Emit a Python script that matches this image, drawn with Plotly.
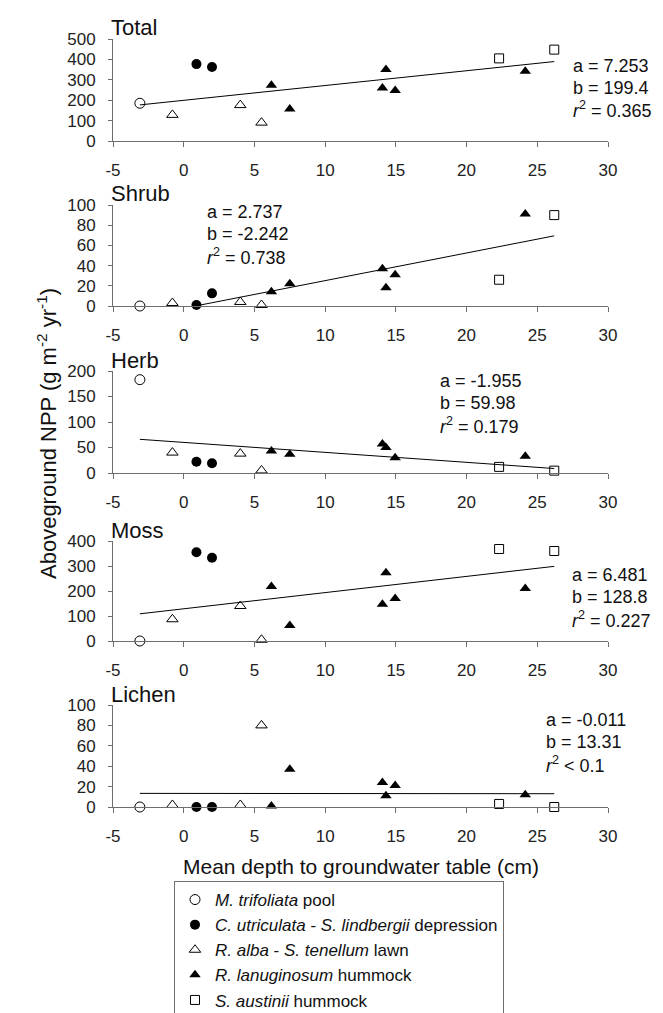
import plotly.graph_objects as go

# ---------------- data ----------------
x_pool = [-3.1]
x_dep = [0.9, 2.0]
x_lawn = [-0.8, 4.0, 5.5]
x_hum = [6.2, 7.5, 14.05, 14.3, 14.95, 24.15]
x_aus = [22.3, 26.2]

x_tick_vals = [-5, 0, 5, 10, 15, 20, 25, 30]
x_tick_text = ["-5", "0", "5", "10", "15", "20", "25", "30"]

panels = ["Total", "Shrub", "Herb", "Moss", "Lichen"]

pool_vals = {"Total": [185], "Shrub": [0], "Herb": [183], "Moss": [0], "Lichen": [0]}
dep_vals = {"Total": [377, 363], "Shrub": [1, 12.5], "Herb": [22, 19],
            "Moss": [355, 333], "Lichen": [0, 0]}
lawn_vals = {"Total": [128, 176, 90], "Shrub": [3, 4, 1], "Herb": [40, 38, 5],
             "Moss": [87, 140, 5], "Lichen": [2, 2, 80]}
hum_vals = {"Total": [273, 157, 260, 351, 247, 342],
            "Shrub": [14, 22, 37, 18, 31, 91],
            "Herb": [43, 37, 57, 50, 30, 33],
            "Moss": [218, 62, 147, 273, 170, 210],
            "Lichen": [1, 37, 24, 11, 21, 12]}
aus_vals = {"Total": [405, 448], "Shrub": [26, 90], "Herb": [12, 4.6],
            "Moss": [368, 360], "Lichen": [3, 0]}

# regression coefficients (slope a, intercept b) and r2 text
slope_a = {"Total": 7.253, "Shrub": 2.737, "Herb": -1.955, "Moss": 6.481, "Lichen": -0.011}
icpt_b = {"Total": 199.4, "Shrub": -2.242, "Herb": 59.98, "Moss": 128.8, "Lichen": 13.31}
a_text = {"Total": "7.253", "Shrub": "2.737", "Herb": "-1.955", "Moss": "6.481", "Lichen": "-0.011"}
b_text = {"Total": "199.4", "Shrub": "-2.242", "Herb": "59.98", "Moss": "128.8", "Lichen": "13.31"}
r2_text = {"Total": "= 0.365", "Shrub": "= 0.738", "Herb": "= 0.179", "Moss": "= 0.227", "Lichen": "< 0.1"}

y_max = {"Total": 500, "Shrub": 100, "Herb": 200, "Moss": 400, "Lichen": 100}
y_dtick = {"Total": 100, "Shrub": 20, "Herb": 50, "Moss": 100, "Lichen": 20}

# stats text placement (data coords: x start, y of first line)
stat_pos = {"Total": (27.4, 370), "Shrub": (1.5, 93), "Herb": (18.0, 180),
            "Moss": (27.3, 264), "Lichen": (25.5, 85)}

legend_names = ["<i>M. trifoliata</i> pool",
                "<i>C. utriculata</i> - <i>S. lindbergii</i> depression",
                "<i>R. alba</i> - <i>S. tenellum</i> lawn",
                "<i>R. lanuginosum</i> hummock",
                "<i>S. austinii</i> hummock"]

# ---------------- layout geometry (pixels) ----------------
W, H = 663, 1013
FONT = "Liberation Sans, Arial, sans-serif"
x_px = (105, 600)
panel_px = {"Total": (31, 133), "Shrub": (197, 298), "Herb": (363, 465),
            "Moss": (533, 633), "Lichen": (697, 799)}


def py(p):
    return 1 - p / H


fig = go.Figure()
groups = [
    (x_pool, pool_vals, dict(symbol="circle-open", size=10, color="black", line=dict(width=1))),
    (x_dep, dep_vals, dict(symbol="circle", size=10, color="black")),
    (x_lawn, lawn_vals, dict(symbol="triangle-up-open", size=10, color="black", line=dict(width=1))),
    (x_hum, hum_vals, dict(symbol="triangle-up", size=10, color="black")),
    (x_aus, aus_vals, dict(symbol="square-open", size=9, color="black", line=dict(width=1))),
]

annotations = []
for i, p in enumerate(panels):
    n = "" if i == 0 else str(i + 1)
    xa, ya = "x" + n, "y" + n
    # regression line
    xs = [min(x_pool), max(x_aus)]
    ys = [slope_a[p] * v + icpt_b[p] for v in xs]
    fig.add_trace(go.Scatter(x=xs, y=ys, mode="lines", line=dict(color="black", width=1),
                             showlegend=False, xaxis=xa, yaxis=ya, hoverinfo="skip"))
    for gi, (gx, gv, mk) in enumerate(groups):
        fig.add_trace(go.Scatter(x=gx, y=gv[p], mode="markers", marker=mk,
                                 name=legend_names[gi], legendgroup=str(gi),
                                 showlegend=(i == 0), cliponaxis=False,
                                 xaxis=xa, yaxis=ya))
    top, bot = panel_px[p]
    fig.layout["xaxis" + n] = dict(domain=[x_px[0] / W, x_px[1] / W], range=[-5, 30],
                                   tickmode="array", tickvals=x_tick_vals, ticktext=x_tick_text,
                                   anchor=ya, showline=True, linecolor="#6e6e6e",
                                   linewidth=1, ticks="outside", ticklen=5, tickcolor="#6e6e6e",
                                   showgrid=False, zeroline=False,
                                   tickfont=dict(family=FONT, size=17, color="#222"),
                                   ticklabelstandoff=9)
    fig.layout["yaxis" + n] = dict(domain=[py(bot), py(top)], range=[0, y_max[p]],
                                   dtick=y_dtick[p], anchor=xa, showline=True,
                                   linecolor="#6e6e6e", linewidth=1, ticks="outside", ticklen=4,
                                   tickcolor="#6e6e6e", showgrid=False, zeroline=False,
                                   tickfont=dict(family=FONT, size=17, color="#222"),
                                   ticklabelstandoff=9)
    # panel title
    annotations.append(dict(text=p, xref="paper", yref="paper", x=101 / W, y=py(top - 11),
                            xanchor="left", yanchor="middle", showarrow=False,
                            font=dict(family=FONT, size=22, color="#111")))
    sx, sy = stat_pos[p]
    lines = ["a = " + a_text[p], "b = " + b_text[p], "<i>r</i><sup>2</sup> " + r2_text[p]]
    ppu = (bot - top) / y_max[p]
    y0_px = bot - sy * ppu
    for k, t in enumerate(lines):
        annotations.append(dict(text=t, xref=xa, yref="paper", x=sx, y=py(y0_px + 22 * k),
                                xanchor="left", yanchor="middle", showarrow=False,
                                font=dict(family=FONT, size=18, color="#111")))

annotations.append(dict(text="Aboveground NPP (g m<sup>-2</sup> yr<sup>-1</sup>)",
                        xref="paper", yref="paper", x=39 / W, y=py(426), textangle=-90,
                        xanchor="center", yanchor="middle", showarrow=False,
                        font=dict(family=FONT, size=22, color="#111")))
annotations.append(dict(text="Mean depth to groundwater table (cm)",
                        xref="paper", yref="paper", x=(x_px[0] + x_px[1]) / 2 / W, y=py(858),
                        xanchor="center", yanchor="middle", showarrow=False,
                        font=dict(family=FONT, size=21, color="#111")))

fig.update_layout(
    width=W, height=H, margin=dict(l=0, r=0, t=0, b=0, autoexpand=False),
    paper_bgcolor="white", plot_bgcolor="white",
    annotations=annotations,
    legend=dict(x=166 / W, y=py(873), xanchor="left", yanchor="top",
                bordercolor="#6e6e6e", borderwidth=1, bgcolor="white",
                font=dict(family=FONT, size=17, color="#111"), tracegroupgap=0,
                itemwidth=30),
    showlegend=True,
)

fig.write_html("out.html")
